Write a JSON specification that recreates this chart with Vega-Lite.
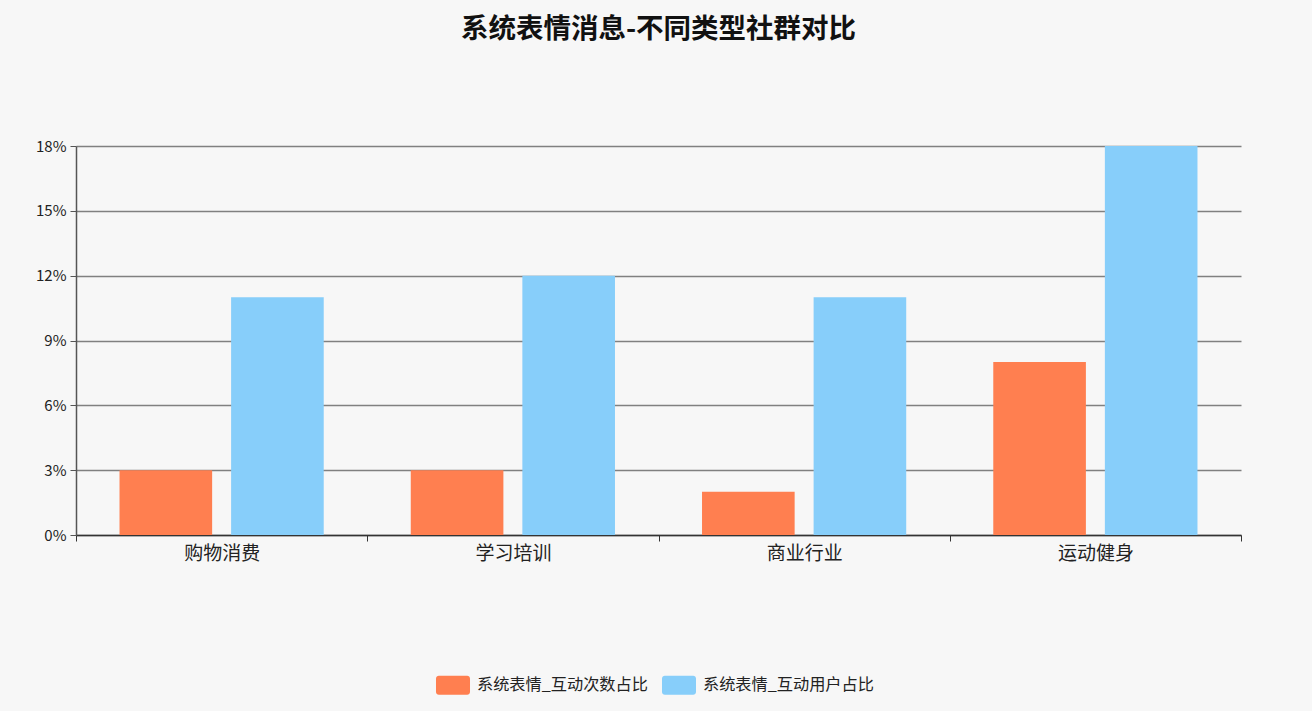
{
  "$schema": "https://vega.github.io/schema/vega-lite/v6.json",
  "autosize": {"type": "none"},
  "width": 1165,
  "height": 389,
  "padding": {"left": 76, "top": 146, "right": 71, "bottom": 176},
  "background": "#f7f7f7",
  "config": {"view": {"stroke": null}},
  "title": {
    "text": "系统表情消息-不同类型社群对比",
    "font": "Noto Sans CJK SC",
    "fontSize": 27.5,
    "fontWeight": "bold",
    "color": "#111111",
    "anchor": "middle",
    "offset": 96
  },
  "data": {
    "values": [
      {"类型": "购物消费", "指标": "系统表情_互动次数占比", "值": 0.03},
      {"类型": "购物消费", "指标": "系统表情_互动用户占比", "值": 0.11},
      {"类型": "学习培训", "指标": "系统表情_互动次数占比", "值": 0.03},
      {"类型": "学习培训", "指标": "系统表情_互动用户占比", "值": 0.12},
      {"类型": "商业行业", "指标": "系统表情_互动次数占比", "值": 0.02},
      {"类型": "商业行业", "指标": "系统表情_互动用户占比", "值": 0.11},
      {"类型": "运动健身", "指标": "系统表情_互动次数占比", "值": 0.08},
      {"类型": "运动健身", "指标": "系统表情_互动用户占比", "值": 0.18}
    ]
  },
  "mark": {"type": "bar"},
  "encoding": {
    "x": {
      "field": "类型",
      "type": "nominal",
      "sort": ["购物消费", "学习培训", "商业行业", "运动健身"],
      "scale": {"paddingInner": 0, "paddingOuter": 0},
      "axis": {
        "title": null,
        "labelAngle": 0,
        "labelFont": "Noto Sans CJK SC",
        "labelFontSize": 19,
        "labelColor": "#222222",
        "labelPadding": 3,
        "tickBand": "extent",
        "tickSize": 6,
        "tickColor": "#333333",
        "domainColor": "#333333",
        "domainWidth": 1.5,
        "grid": false
      }
    },
    "xOffset": {
      "field": "指标",
      "type": "nominal",
      "sort": ["系统表情_互动次数占比", "系统表情_互动用户占比"],
      "scale": {"paddingInner": 0.17, "paddingOuter": 0.39}
    },
    "y": {
      "field": "值",
      "type": "quantitative",
      "scale": {"domain": [0, 0.18], "nice": false},
      "axis": {
        "title": null,
        "values": [0, 0.03, 0.06, 0.09, 0.12, 0.15, 0.18],
        "format": ".0%",
        "labelFont": "Noto Sans CJK SC",
        "labelFontSize": 15,
        "labelColor": "#222222",
        "labelPadding": 4,
        "tickSize": 6,
        "tickColor": "#555555",
        "domainColor": "#555555",
        "domainWidth": 1.5,
        "grid": true,
        "gridColor": "#808080",
        "gridWidth": 1.3
      }
    },
    "color": {
      "field": "指标",
      "type": "nominal",
      "sort": ["系统表情_互动次数占比", "系统表情_互动用户占比"],
      "scale": {
        "domain": ["系统表情_互动次数占比", "系统表情_互动用户占比"],
        "range": ["#ff7f50", "#87cefa"]
      },
      "legend": {
        "title": null,
        "orient": "none",
        "direction": "horizontal",
        "legendX": 358,
        "legendY": 520,
        "symbolType": "M-0.75,-0.5 H0.75 A0.15,0.15 0 0 1 0.9,-0.35 V0.35 A0.15,0.15 0 0 1 0.75,0.5 H-0.75 A0.15,0.15 0 0 1 -0.9,0.35 V-0.35 A0.15,0.15 0 0 1 -0.75,-0.5 Z",
        "symbolSize": 1428,
        "symbolStrokeWidth": 0,
        "symbolOpacity": 1,
        "labelFont": "Noto Sans CJK SC",
        "labelFontSize": 16.2,
        "labelColor": "#222222",
        "labelOffset": 5,
        "labelLimit": 400,
        "columnPadding": 12
      }
    }
  }
}
